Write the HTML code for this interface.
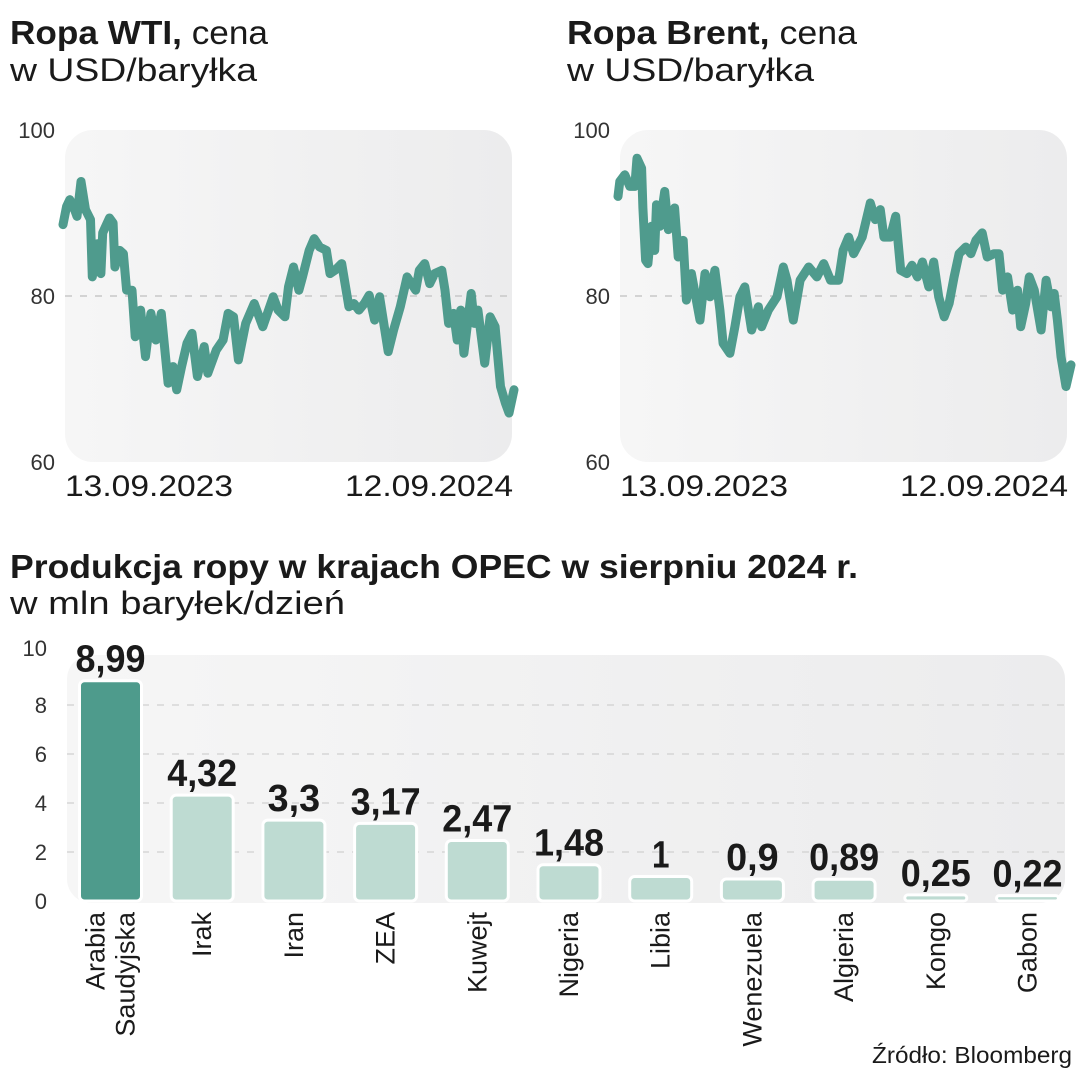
<!DOCTYPE html>
<html><head><meta charset="utf-8"><style>
body{margin:0;background:#fff;}
svg{display:block;font-family:"Liberation Sans",sans-serif;}
</style></head><body>
<svg id="root" width="1080" height="1080" viewBox="0 0 1080 1080">
<defs>
<linearGradient id="bg" x1="0" x2="1" y1="0" y2="0"><stop offset="0" stop-color="#f6f6f6"/><stop offset="1" stop-color="#ececed"/></linearGradient>
</defs>
<g>
<text x="10" y="44" font-size="33" fill="#1a1a1a" textLength="258" lengthAdjust="spacingAndGlyphs"><tspan font-weight="bold">Ropa WTI,</tspan> cena</text>
<text x="10" y="81" font-size="32" fill="#1a1a1a" textLength="247" lengthAdjust="spacingAndGlyphs">w USD/baryłka</text>
</g>
<g>
<text x="567" y="44" font-size="33" fill="#1a1a1a" textLength="290" lengthAdjust="spacingAndGlyphs"><tspan font-weight="bold">Ropa Brent,</tspan> cena</text>
<text x="567" y="81" font-size="32" fill="#1a1a1a" textLength="247" lengthAdjust="spacingAndGlyphs">w USD/baryłka</text>
</g>
<g id="wti"></g>
<g id="brent"></g>
<g>
<text x="10" y="578" font-size="33" font-weight="bold" fill="#1a1a1a" textLength="848" lengthAdjust="spacingAndGlyphs">Produkcja ropy w krajach OPEC w sierpniu 2024 r.</text>
<text x="10" y="614" font-size="32" fill="#1a1a1a" textLength="335" lengthAdjust="spacingAndGlyphs">w mln baryłek/dzień</text>
</g>
<g id="bars"></g>
<text x="1072" y="1063" font-size="23" fill="#1a1a1a" text-anchor="end" textLength="200" lengthAdjust="spacingAndGlyphs">Źródło: Bloomberg</text>
</svg>
<script>
const NS="http://www.w3.org/2000/svg";
// WTI: time position (% of period) and price
const wtiT=[0,0.8,1.5,2.3,3.1,4.0,5.0,6.1,6.5,7.6,8.4,8.8,10.3,11.1,11.5,12.6,13.4,14.1,15.3,16.0,17.2,18.3,19.5,20.6,21.8,23.3,24.4,25.2,26.3,27.5,28.6,29.8,31.3,32.1,34.0,35.5,36.6,37.8,38.9,40.5,42.4,44.3,46.6,47.7,49.2,50.0,51.1,52.3,53.1,54.6,55.7,56.9,58.4,59.2,60.3,61.8,63.4,64.5,65.6,66.8,67.9,69.1,70.2,72.1,73.3,74.8,76.3,78.2,79.0,80.2,81.3,82.4,84.0,84.7,85.5,86.6,87.4,88.2,88.9,90.5,91.2,92.0,93.5,94.7,95.8,97.0,98.1,98.9,100];
const wtiV=[88.6,90.8,91.6,90.8,89.6,93.8,90.4,89.2,82.3,86.3,82.7,87.6,89.4,88.8,83.5,85.5,85.1,80.7,80.7,75.1,78.3,72.7,77.9,74.7,77.9,69.5,71.5,68.7,71.5,74.3,75.5,70.3,73.9,70.7,73.5,74.7,77.9,77.5,72.3,76.7,79.1,76.3,79.9,78.3,77.5,81.1,83.5,80.7,82.3,85.5,86.9,85.9,85.5,82.7,83.1,83.9,78.7,79.1,78.3,79.1,80.1,77.1,79.9,73.3,75.9,78.7,82.3,80.7,83.1,83.9,81.5,82.7,83.1,80.7,76.7,77.9,74.7,78.3,73.1,80.3,76.7,78.3,71.9,77.5,76.3,69.1,67.1,65.9,68.7];
const brentT=[0,0.4,1.5,2.6,3.7,4.2,5.2,5.5,6.1,6.6,7.4,8.1,8.5,9.2,10.3,11.1,12.5,13.3,14.4,15.1,16.2,18.1,19.2,20.3,21.4,22.5,23.2,24.7,25.8,26.9,28.0,29.5,31.0,31.7,33.2,35.1,36.5,37.3,38.7,40.2,42.1,43.9,45.4,46.9,48.7,49.7,50.9,52.0,53.9,55.7,56.8,57.9,58.7,60.1,61.3,62.4,63.8,64.9,66.1,67.2,68.6,69.7,70.8,72.0,73.1,74.2,75.3,76.8,77.9,79.0,80.4,81.5,83.0,84.1,84.9,86.0,87.1,88.2,88.9,90.0,90.8,91.9,93.4,94.5,95.6,96.3,97.0,97.8,98.9,100];
const brentV=[92.0,93.8,94.6,93.2,93.2,96.6,95.4,90.6,84.3,83.9,88.4,85.5,91.0,88.4,92.6,88.0,90.6,84.7,86.7,79.5,82.7,77.1,82.7,79.9,83.1,78.3,74.3,73.1,76.3,79.9,81.1,75.9,78.7,76.3,78.3,79.9,83.5,81.9,77.1,81.9,83.5,82.3,83.9,81.9,81.9,85.5,87.1,85.1,87.1,91.2,89.2,90.4,87.1,87.1,89.6,83.1,82.7,83.7,82.3,84.1,81.1,84.1,79.9,77.5,79.1,82.3,85.1,85.9,85.1,86.7,87.6,84.7,85.1,85.1,80.7,82.3,78.3,80.7,76.3,79.1,82.3,80.7,75.9,81.9,78.7,80.3,77.1,72.7,69.1,71.7];
const priceTicks=[100,80,60];
const dateLabels=["13.09.2023","12.09.2024"];
// OPEC
const countries=[["Arabia","Saudyjska"],["Irak"],["Iran"],["ZEA"],["Kuwejt"],["Nigeria"],["Libia"],["Wenezuela"],["Algieria"],["Kongo"],["Gabon"]];
const production=[8.99,4.32,3.3,3.17,2.47,1.48,1,0.9,0.89,0.25,0.22];
const prodLabels=["8,99","4,32","3,3","3,17","2,47","1,48","1","0,9","0,89","0,25","0,22"];
const prodTicks=[0,2,4,6,8,10];

function mk(tag,attrs,parent,txt){const e=document.createElementNS(NS,tag);for(const k in attrs)e.setAttribute(k,attrs[k]);if(txt!==undefined)e.textContent=txt;parent.appendChild(e);return e;}

function lineChart(gid,T,V,bx,lx0,lx1,name){
  const g=document.getElementById(gid);
  const y=v=>130+(100-v)*8.3;
  const x=t=>lx0+(lx1-lx0)*t/100;
  const bg=mk('rect',{x:bx,y:130,width:447,height:332,rx:28,fill:'url(#bg)'},g);
  
  
  const gl=mk('line',{x1:bx,x2:bx+447,y1:y(80),y2:y(80),stroke:'#c8c8c8','stroke-width':1.5,'stroke-dasharray':'7 8'},g);
  
  
  priceTicks.forEach(v=>{
    const t=mk('text',{x:bx-10,y:y(v)+8,'font-size':22,fill:'#333','text-anchor':'end'},g,v);
    
    
  });
  dateLabels.forEach((d,i)=>{
    const t=mk('text',{x:i?bx+448:bx,y:496,'font-size':30,fill:'#1a1a1a','text-anchor':i?'end':'start',textLength:168,lengthAdjust:'spacingAndGlyphs'},g,d);
    
    
  });
  const pts=T.map((t,i)=>x(t).toFixed(1)+','+y(V[i]).toFixed(1)).join(' ');
  const pl=mk('polyline',{points:pts,fill:'none',stroke:'#4f9b8d','stroke-width':9,'stroke-linejoin':'round','stroke-linecap':'round'},g);
  
  
}
lineChart('wti',wtiT,wtiV,65,63,514,'wti');
lineChart('brent',brentT,brentV,620,618,1071,'brent');

(function(){
  const g=document.getElementById('bars');
  const y=v=>901-v*24.5;
  const cx=i=>110.5+i*91.7;
  const bg=mk('rect',{x:67,y:655,width:998,height:248,rx:24,fill:'url(#bg)'},g);
  
  
  prodTicks.forEach(v=>{
    if(v>0&&v<10){
      const l=mk('line',{x1:67,x2:1065,y1:y(v),y2:y(v),stroke:'#d6d6d6','stroke-width':1.5,'stroke-dasharray':'7 8'},g);
      
      
    }
    const t=mk('text',{x:47,y:y(v)+(v===10?0:8),'font-size':22,fill:'#333','text-anchor':'end'},g,v);
    
    
  });
  production.forEach((v,i)=>{
    const top=y(v),h=Math.max(901-top,3);
    const r=mk('rect',{x:cx(i)-31,y:901-h,width:62,height:h,rx:Math.min(5,h/2),fill:i===0?'#4e9b8c':'#bedbd2',stroke:'#fff','stroke-width':3},g);
    
    
    const lab=prodLabels[i];
    const t=mk('text',{x:cx(i),y:901-h-9,'font-size':38,'font-weight':'bold',fill:'#1a1a1a','text-anchor':'middle',textLength:lab.length*17.5,lengthAdjust:'spacingAndGlyphs'},g,lab);
    
    
    const lines=countries[i];
    lines.forEach((s,j)=>{
      const xx=cx(i)+9+(j-(lines.length-1)/2)*30;
      const c=mk('text',{x:0,y:0,'font-size':27,fill:'#1a1a1a','text-anchor':'end',transform:'translate('+xx+',912) rotate(-90)'},g,s);
      
      
    });
  });
})();
</script>
</body></html>
